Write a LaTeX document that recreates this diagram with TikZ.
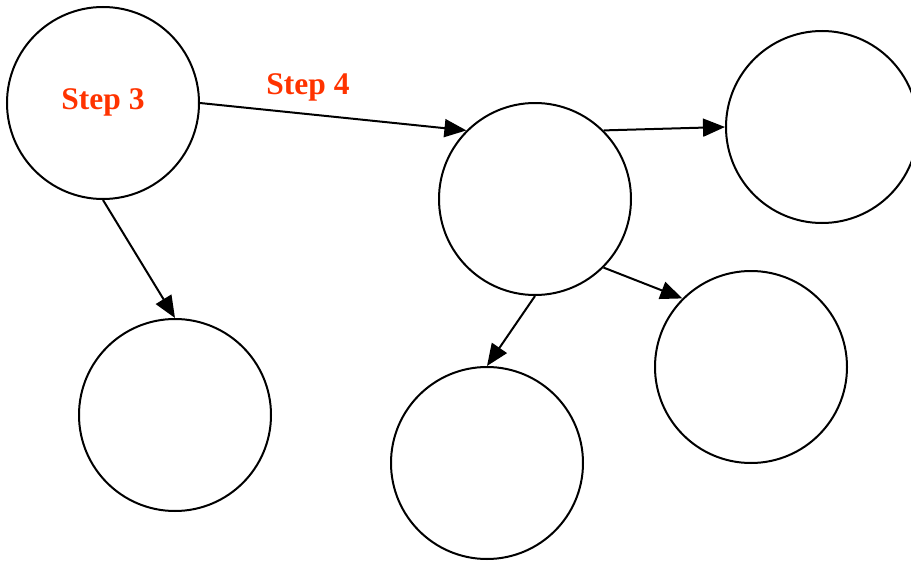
\documentclass[tikz,border=0pt]{standalone}
\usepackage{fontspec}
\setmainfont{Liberation Serif}
\usetikzlibrary{arrows.meta}
\definecolor{stepred}{HTML}{FF3300}
\begin{document}
\begin{tikzpicture}[x=1pt,y=-1pt,
  bubble/.style={circle,draw=black,line width=2pt,minimum size=192pt,inner sep=0pt},
  conn/.style={line width=2pt,-{Triangle[length=22pt,width=18pt]}},
  lbl/.style={text=stepred,font=\fontsize{31.5}{36}\selectfont\bfseries,inner sep=0pt}]
\useasboundingbox (0,0) rectangle (911,562);
\node[bubble] (a) at (103,103) {};
\node[bubble] (b) at (175,415) {};
\node[bubble] (c) at (535,199) {};
\node[bubble] (d) at (822,127) {};
\node[bubble] (e) at (751,367) {};
\node[bubble] (f) at (487,463) {};
\node[lbl] (s3) at (103,102) {Step 3};
\node[lbl] (s4) at (308,87) {Step 4};
\draw[conn] (a.south) -- (b.north);
\draw[conn] (a.east) -- (c.north west);
\draw[conn] (c.north east) -- (d.west);
\draw[conn] (c.south east) -- (e.north west);
\draw[conn] (c.south) -- (f.north);
\end{tikzpicture}
\end{document}
